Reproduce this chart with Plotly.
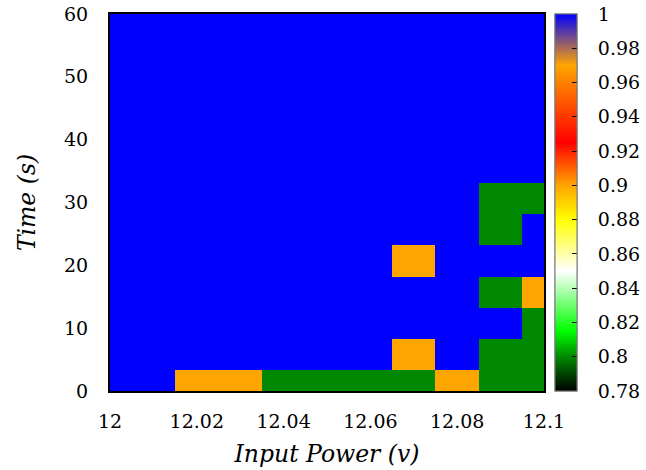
import plotly.graph_objects as go

# Data
input_power = [12.00, 12.01, 12.02, 12.03, 12.04, 12.05, 12.06, 12.07, 12.08, 12.09, 12.10]
time_s = [0.85, 5.8, 10.75, 15.7, 20.65, 25.6, 30.55, 35.5, 40.45, 45.4, 50.35, 55.3, 60.25]

B, O, G = 1.0, 0.9, 0.8
ratio = [
    [B, B, O, O, G, G, G, G, O, G, G],
    [B, B, B, B, B, B, B, O, B, G, G],
    [B, B, B, B, B, B, B, B, B, B, G],
    [B, B, B, B, B, B, B, B, B, G, O],
    [B, B, B, B, B, B, B, O, B, B, B],
    [B, B, B, B, B, B, B, B, B, G, B],
    [B, B, B, B, B, B, B, B, B, G, G],
    [B] * 11,
    [B] * 11,
    [B] * 11,
    [B] * 11,
    [B] * 11,
    [B] * 11,
]

cb_ticks = [0.78, 0.80, 0.82, 0.84, 0.86, 0.88, 0.90, 0.92, 0.94, 0.96, 0.98, 1.0]
cb_text = ["0.78", "0.8", "0.82", "0.84", "0.86", "0.88", "0.9", "0.92", "0.94", "0.96", "0.98", "1"]
x_ticks = [12.0, 12.02, 12.04, 12.06, 12.08, 12.1]
x_text = ["12", "12.02", "12.04", "12.06", "12.08", "12.1"]
y_ticks = [0, 10, 20, 30, 40, 50, 60]

zmin, zmax = 0.78, 1.0
def s(v):
    return (v - zmin) / (zmax - zmin)

colorscale = [
    [s(0.78), "rgb(0,0,0)"],
    [s(0.80), "rgb(0,136,0)"],
    [s(0.815), "rgb(0,255,0)"],
    [s(0.85), "rgb(255,255,255)"],
    [s(0.88), "rgb(255,255,0)"],
    [s(0.90), "rgb(255,165,0)"],
    [s(0.925), "rgb(255,0,0)"],
    [s(0.97), "rgb(255,165,0)"],
    [s(1.0), "rgb(0,0,255)"],
]

FONT = "DejaVu Serif"
TICK_SIZE = 19
TITLE_SIZE = 23.5
CB_X = 1.0253

common_cb = dict(
    x=CB_X, xanchor="left", xpad=0, ypad=0,
    y=0.5, yanchor="middle", len=1, lenmode="fraction",
    thickness=22, tickvals=cb_ticks,
)

# labelled colorbar (transparent long ticks push labels outward)
hm_labels = go.Heatmap(
    x=input_power, y=time_s, z=ratio,
    zmin=zmin, zmax=zmax, colorscale=colorscale,
    colorbar=dict(
        **common_cb, ticktext=cb_text,
        outlinewidth=1, outlinecolor="#777777",
        ticks="outside", ticklen=17, tickcolor="rgba(0,0,0,0)",
        tickfont=dict(family=FONT, size=TICK_SIZE, color="black"),
    ),
)
# same data drawn again; its colorbar carries the inward tick marks
hm_ticks = go.Heatmap(
    x=input_power, y=time_s, z=ratio,
    zmin=zmin, zmax=zmax, colorscale=colorscale,
    colorbar=dict(
        **common_cb,
        outlinewidth=1, outlinecolor="#777777",
        ticks="inside", ticklen=5, tickcolor="black", tickwidth=1,
        showticklabels=False,
    ),
)

fig = go.Figure([hm_labels, hm_ticks])

fig.update_layout(
    width=646, height=470,
    margin=dict(l=110, r=102, t=14, b=79, autoexpand=False),
    paper_bgcolor="white", plot_bgcolor="white",
    font=dict(family=FONT, size=TICK_SIZE, color="black"),
    xaxis=dict(
        range=[12.0, 12.1], tickvals=x_ticks, ticktext=x_text,
        showline=True, linecolor="black", linewidth=2, mirror=True,
        showgrid=False, zeroline=False, ticks="",
        ticklabelstandoff=12,
        tickfont=dict(family=FONT, size=TICK_SIZE),
        title=dict(text="<i>Input Power (v)</i>", font=dict(family=FONT, size=TITLE_SIZE), standoff=15),
    ),
    yaxis=dict(
        range=[0, 60], tickvals=y_ticks,
        showline=True, linecolor="black", linewidth=2, mirror=True,
        showgrid=False, zeroline=False, ticks="",
        ticklabelstandoff=16,
        tickfont=dict(family=FONT, size=TICK_SIZE),
        title=dict(text="<i>Time (s)</i>", font=dict(family=FONT, size=TITLE_SIZE), standoff=22),
    ),
)

fig.write_html("out.html")
